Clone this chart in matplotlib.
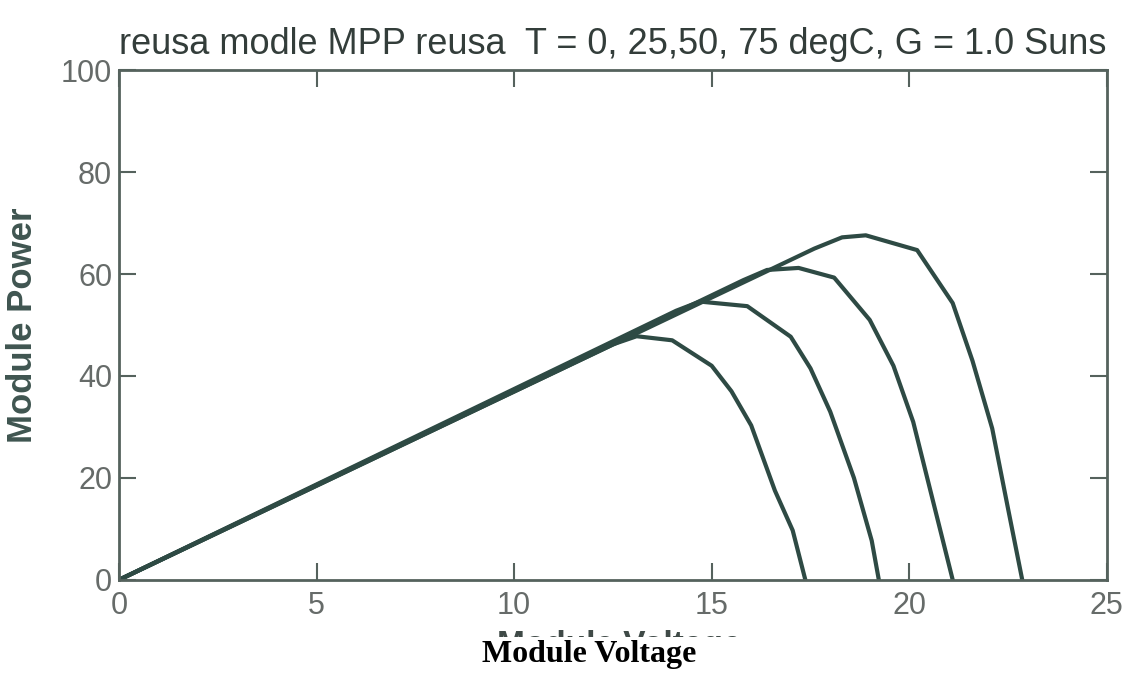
import matplotlib
matplotlib.use("Agg")
import matplotlib.pyplot as plt
from matplotlib.patches import Rectangle

# P-V curves, T = 75, 50, 25, 0 degC
v_75 = [0, 12.5, 13.1, 14.0, 15.0, 15.5, 16.0, 16.6, 17.05, 17.37]
p_75 = [0, 46.2, 47.8, 47.0, 42.0, 37.0, 30.3, 17.5, 9.7, 0]

v_50 = [0, 14.1, 14.7, 15.9, 17.0, 17.5, 18.0, 18.6, 19.05, 19.23]
p_50 = [0, 52.8, 54.6, 53.7, 47.7, 41.5, 33.0, 20.0, 7.7, 0]

v_25 = [0, 15.8, 16.4, 17.2, 18.1, 19.0, 19.6, 20.1, 20.6, 21.1]
p_25 = [0, 58.8, 60.8, 61.2, 59.3, 51.0, 42.0, 31.0, 15.5, 0]

v_0 = [0, 17.6, 18.3, 18.9, 20.2, 21.1, 21.6, 22.1, 22.5, 22.86]
p_0 = [0, 65.0, 67.2, 67.6, 64.7, 54.3, 43.0, 29.7, 14.0, 0]

x_ticks = [0, 5, 10, 15, 20, 25]
y_ticks = [0, 20, 40, 60, 80, 100]

title = "reusa modle MPP reusa  T = 0, 25,50, 75 degC, G = 1.0 Suns"

line_col = "#2e4a44"
axis_col = "#55625d"
sans = ["Liberation Sans", "DejaVu Sans"]

fig = plt.figure(figsize=(11.34, 6.75), dpi=100)
ax = fig.add_axes([0.105, 0.141, 0.871, 0.755])

for v, p in [(v_75, p_75), (v_50, p_50), (v_25, p_25), (v_0, p_0)]:
    ax.plot(v, p, color=line_col, lw=3, solid_joinstyle="round")

ax.set_xlim(0, 25)
ax.set_ylim(0, 100)
ax.set_xticks(x_ticks)
ax.set_yticks(y_ticks)
ax.tick_params(direction="in", length=12, width=1.5, color=axis_col,
               top=True, right=True, labelsize=22, labelcolor="#666b69")
ax.tick_params(axis="y", pad=5)
ax.tick_params(axis="x", pad=8)
for lab in ax.get_xticklabels() + ax.get_yticklabels():
    lab.set_family(sans)
for s in ax.spines.values():
    s.set_color(axis_col)
    s.set_linewidth(2)

ax.set_title(title, family=sans, fontsize=26, color="#333d3a", pad=12)
ax.set_ylabel("Module Power", family=sans, fontsize=25, fontweight="bold",
              color="#3f5550", labelpad=16)

# original sans xlabel, almost fully covered by a white strip
fig.text(0.546, 1 - 630 / 675, "Module Voltage", family=sans, fontsize=24,
         fontweight="bold", color="#3f4a47", ha="center", va="top", zorder=3)
fig.patches.append(Rectangle((0.3, 0.0), 0.5, 1 - 637 / 675, transform=fig.transFigure,
                             facecolor="white", edgecolor="none", zorder=4))
fig.text(0.52, 0.03, "Module Voltage", family=["Liberation Serif", "DejaVu Serif"],
         fontsize=23, fontweight="bold", color="black", ha="center", va="center", zorder=5)

fig.savefig("out.png", dpi=100)
